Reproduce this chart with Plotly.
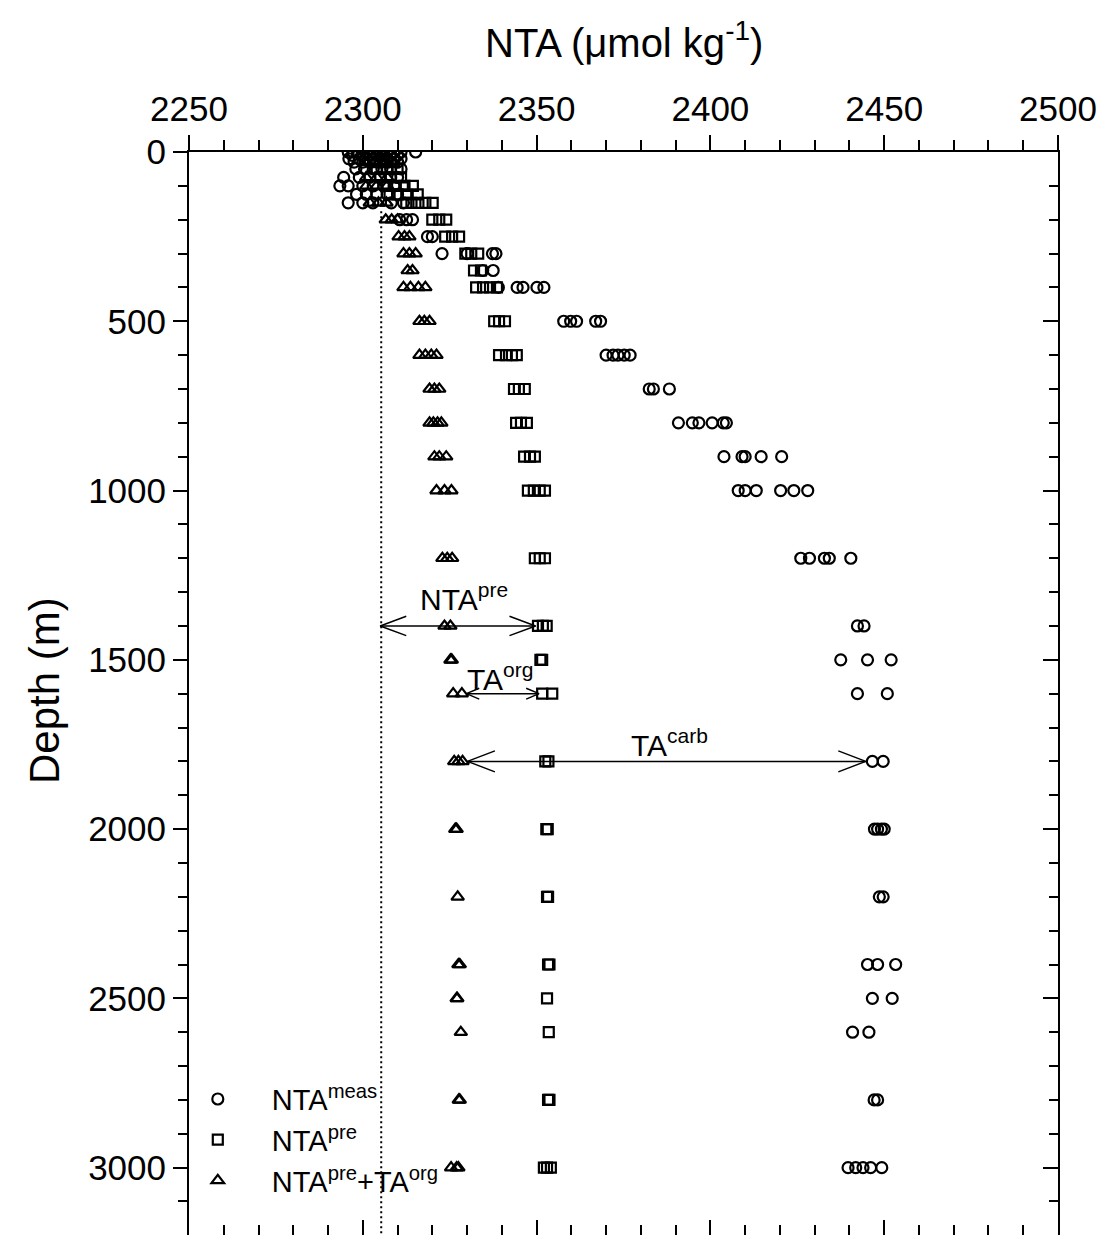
import plotly.graph_objects as go

FONT = "Liberation Sans, Arial, sans-serif"

# ---------------- data ----------------
meas_depth = (
    [0]*10 + [10]*7 + [20]*7 + [30]*6 + [50]*6 + [75]*6 + [100]*6 + [125]*5 + [150]*5 +
    [200]*3 + [250]*2 + [300]*4 + [350]*2 + [400]*5 + [500]*5 + [600]*5 + [700]*3 +
    [800]*6 + [900]*5 + [1000]*6 + [1200]*5 + [1400]*2 + [1500]*3 + [1600]*2 + [1800]*2 +
    [2000]*4 + [2200]*2 + [2400]*3 + [2500]*2 + [2600]*2 + [2800]*2 + [3000]*5
)
meas_nta = [
    2295.8, 2297.2, 2298.5, 2301, 2303, 2305, 2307, 2309, 2311, 2315.2,
    2297, 2300, 2302, 2304, 2306, 2308, 2310,
    2296, 2299, 2301, 2303.5, 2306, 2309, 2311,
    2297.5, 2300, 2302, 2305, 2307, 2310,
    2298, 2300.5, 2303, 2305.5, 2308, 2311,
    2294.5, 2299, 2302, 2305, 2308, 2310,
    2293.4, 2295.8, 2300, 2303, 2306, 2309,
    2298.2, 2301, 2304, 2307, 2310,
    2295.8, 2300, 2302.9, 2308.2, 2311.7,
    2310.6, 2312.6, 2314.3,
    2318.6, 2320,
    2322.8, 2330.0, 2337.3, 2338.3,
    2334.5, 2337.5,
    2339.0, 2344.4, 2346.1, 2350.1, 2352.1,
    2357.8, 2359.8, 2361.5, 2367.0, 2368.4,
    2370.0, 2372.0, 2373.4, 2375.2, 2376.9,
    2382.4, 2383.6, 2388.2,
    2390.8, 2394.8, 2396.7, 2400.5, 2403.7, 2404.6,
    2403.9, 2409.1, 2410.0, 2414.6, 2420.5,
    2408.0, 2410.0, 2413.2, 2420.2, 2424.0, 2428.0,
    2426.0, 2428.5, 2432.8, 2434.2, 2440.4,
    2442.3, 2444.2,
    2437.5, 2445.2, 2452.0,
    2442.3, 2450.9,
    2446.6, 2449.7,
    2447.2, 2448.1, 2449.2, 2450.0,
    2448.6, 2449.7,
    2445.2, 2448.1, 2453.3,
    2446.6, 2452.3,
    2440.9, 2445.6,
    2447.1, 2448.1,
    2439.6, 2441.8, 2443.9, 2446.1, 2449.3,
]

pre_depth = (
    [0]*3 + [10]*3 + [20]*3 + [30]*3 + [50]*3 + [75]*3 + [100]*4 + [125]*4 + [150]*5 +
    [200]*3 + [250]*3 + [300]*3 + [350]*2 + [400]*4 + [500]*3 + [600]*4 + [700]*3 +
    [800]*3 + [900]*3 + [1000]*4 + [1200]*3 + [1400]*3 + [1500]*2 + [1600]*2 + [1800]*2 +
    [2000]*2 + [2200]*2 + [2400]*2 + [2500]*1 + [2600]*1 + [2800]*2 + [3000]*3
)
pre_nta = [
    2302, 2305, 2308,
    2303, 2306, 2309,
    2302, 2305, 2308,
    2303, 2306, 2309,
    2304, 2307, 2310,
    2305, 2308, 2311,
    2307.0, 2309.5, 2312.0, 2314.4,
    2307.7, 2310.0, 2312.5, 2315.8,
    2312.5, 2314.0, 2316.0, 2318.0, 2320.1,
    2320.0, 2322.0, 2324.0,
    2323.7, 2325.7, 2327.7,
    2329.5, 2331.2, 2333.2,
    2332.0, 2334.0,
    2332.6, 2334.6, 2336.6, 2338.6,
    2337.8, 2339.2, 2340.9,
    2339.2, 2341.2, 2342.9, 2344.3,
    2343.5, 2344.9, 2346.6,
    2344.1, 2345.5, 2347.2,
    2346.4, 2348.1, 2349.5,
    2347.5, 2349.2, 2350.9, 2352.4,
    2349.5, 2350.9, 2352.4,
    2350.4, 2351.8, 2352.9,
    2351.1, 2351.6,
    2351.6, 2354.5,
    2352.5, 2353.4,
    2352.8, 2353.2,
    2353.0, 2353.3,
    2353.3, 2353.7,
    2353.0,
    2353.5,
    2353.3, 2353.7,
    2352.1, 2353.0, 2354.1,
]

org_depth = (
    [0]*3 + [30]*3 + [75]*3 + [100]*3 + [150]*3 +
    [200]*3 + [250]*3 + [300]*3 + [350]*2 + [400]*4 + [500]*3 + [600]*4 + [700]*3 +
    [800]*4 + [900]*3 + [1000]*3 + [1200]*3 + [1400]*2 + [1500]*2 + [1600]*2 + [1800]*3 +
    [2000]*2 + [2200]*1 + [2400]*2 + [2500]*2 + [2600]*1 + [2800]*2 + [3000]*3
)
org_nta = [
    2300, 2303, 2306,
    2300.5, 2303.5, 2306.5,
    2301, 2304, 2307,
    2301, 2304, 2307,
    2302.0, 2304.5, 2306.8,
    2306.6, 2308.3, 2310.0,
    2310.3, 2312.0, 2313.4,
    2311.7, 2313.4, 2315.2,
    2312.9, 2314.3,
    2311.7, 2313.7, 2316.0, 2318.0,
    2316.3, 2317.7, 2319.2,
    2316.3, 2318.0, 2319.7, 2321.2,
    2319.2, 2320.6, 2322.0,
    2319.2, 2320.3, 2321.5, 2322.6,
    2320.6, 2322.0, 2324.0,
    2321.2, 2323.5, 2325.5,
    2322.9, 2324.3, 2325.7,
    2323.5, 2325.2,
    2325.2, 2325.6,
    2326.0, 2328.5,
    2326.3, 2327.5, 2328.7,
    2326.6, 2327.0,
    2327.3,
    2327.5, 2327.9,
    2327.0, 2327.2,
    2328.2,
    2327.6, 2327.9,
    2325.4, 2327.0, 2327.5,
]

# reference (dotted) line
ref_nta = 2305.3
ref_depth_range = [175, 3199]

# arrows between components
arrow_depth = [1400, 1600, 1800]
arrow_x0 = [2305.0, 2329.8, 2330.1]
arrow_x1 = [2349.7, 2350.7, 2444.7]
head_len = [7.5, 3.7, 7.9]
head_half = [28.6, 16.0, 31.0]

label_text = ["NTA<sup>pre</sup>", "TA<sup>org</sup>", "TA<sup>carb</sup>"]
label_x = [2329.2, 2339.4, 2388.1]
label_depth = [1315, 1552, 1745]

x_range = [2250, 2500]
y_range = [3199, 0]

# ---------------- figure ----------------
fig = go.Figure()

mk_line = dict(color="black", width=2.2)
fig.add_trace(go.Scatter(x=meas_nta, y=meas_depth, mode="markers", name="NTA<sup>meas</sup>",
                         marker=dict(symbol="circle-open", size=11, color="black", line=mk_line)))
fig.add_trace(go.Scatter(x=pre_nta, y=pre_depth, mode="markers", name="NTA<sup>pre</sup>",
                         marker=dict(symbol="square-open", size=10, color="black", line=mk_line)))
fig.add_trace(go.Scatter(x=org_nta, y=org_depth, mode="markers", name="NTA<sup>pre</sup>+TA<sup>org</sup>",
                         marker=dict(symbol="triangle-up-open", size=11, color="black", line=mk_line)))

# dotted reference line
fig.add_trace(go.Scatter(x=[ref_nta, ref_nta], y=ref_depth_range, mode="lines", showlegend=False,
                         hoverinfo="skip", line=dict(color="black", width=2, dash="2px,3px")))

# arrows (shaft + open V heads at both ends)
ax, ay = [], []
for d, x0, x1, L, H in zip(arrow_depth, arrow_x0, arrow_x1, head_len, head_half):
    ax += [x0, x1, None]
    ay += [d, d, None]
    ax += [x0 + L, x0, x0 + L, None]
    ay += [d - H, d, d + H, None]
    ax += [x1 - L, x1, x1 - L, None]
    ay += [d - H, d, d + H, None]
fig.add_trace(go.Scatter(x=ax, y=ay, mode="lines", showlegend=False, hoverinfo="skip",
                         line=dict(color="black", width=1.5)))

# dummy trace to register the mirror axes
fig.add_trace(go.Scatter(x=[None], y=[None], xaxis="x2", yaxis="y2", showlegend=False,
                         hoverinfo="skip"))

for t, x, d in zip(label_text, label_x, label_depth):
    fig.add_annotation(x=x, y=d, xref="x", yref="y", text=t, showarrow=False,
                       xanchor="center", yanchor="middle",
                       font=dict(family=FONT, size=30, color="black"))

# axis titles
fig.add_annotation(x=0.5, y=1.1034, xref="paper", yref="paper", showarrow=False,
                   text="NTA (μmol kg<sup>-1</sup>)", xanchor="center", yanchor="middle",
                   font=dict(family=FONT, size=40, color="black"))
fig.add_annotation(x=-0.166, y=0.503, xref="paper", yref="paper", showarrow=False,
                   text="Depth (m)", textangle=-90, xanchor="center", yanchor="middle",
                   font=dict(family=FONT, size=42, color="black"))

tickfont = dict(family=FONT, size=35, color="black")
fig.update_layout(
    width=1105, height=1235,
    margin=dict(l=189, r=47, t=152, b=0),
    paper_bgcolor="white", plot_bgcolor="white",
    font=dict(family=FONT, color="black"),
    showlegend=True,
    legend=dict(x=-0.029, y=0.149, xanchor="left", yanchor="top",
                bgcolor="rgba(0,0,0,0)", font=dict(family=FONT, size=29, color="black"),
                itemwidth=98, tracegroupgap=0),
    xaxis=dict(range=x_range, side="top", tick0=2250, dtick=50, ticks="outside",
               ticklen=15, tickwidth=2, tickcolor="black", showline=True, linewidth=2,
               linecolor="black", showgrid=False, zeroline=False, tickfont=tickfont,
               minor=dict(dtick=10, ticks="outside", ticklen=10, tickwidth=2,
                          tickcolor="black", showgrid=False)),
    yaxis=dict(range=y_range, tick0=0, dtick=500, ticks="outside", ticklen=14, tickwidth=2,
               tickcolor="black", showline=True, linewidth=2, linecolor="black",
               showgrid=False, zeroline=False, tickfont=tickfont,
               minor=dict(dtick=100, ticks="outside", ticklen=9, tickwidth=2,
                          tickcolor="black", showgrid=False)),
    xaxis2=dict(range=x_range, overlaying="x", side="bottom", anchor="y2", tick0=2250,
                dtick=50, ticks="inside", ticklen=15, tickwidth=2, tickcolor="black",
                showline=False, showgrid=False, zeroline=False, showticklabels=False,
                minor=dict(dtick=10, ticks="inside", ticklen=10, tickwidth=2,
                           tickcolor="black", showgrid=False)),
    yaxis2=dict(range=y_range, overlaying="y", side="right", anchor="x2", tick0=0, dtick=500,
                ticks="inside", ticklen=15, tickwidth=2, tickcolor="black", showline=True,
                linewidth=2, linecolor="black", showgrid=False, zeroline=False,
                showticklabels=False,
                minor=dict(dtick=100, ticks="inside", ticklen=9, tickwidth=2,
                           tickcolor="black", showgrid=False)),
)

fig.write_html("out.html")
